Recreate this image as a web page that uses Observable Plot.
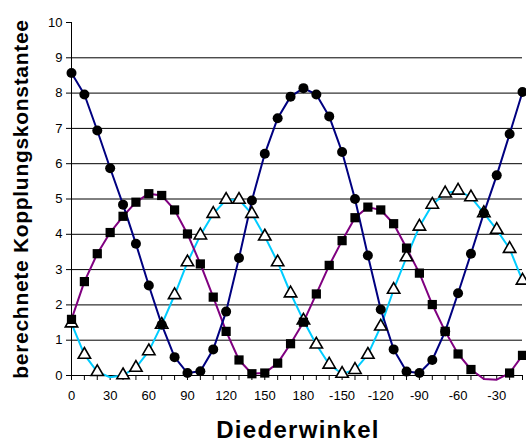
<!DOCTYPE html>
<html><head><meta charset="utf-8">
<script src="https://cdn.jsdelivr.net/npm/d3@7"></script>
<script src="https://cdn.jsdelivr.net/npm/@observablehq/plot@0.6"></script>
<style>body{margin:0;background:#fff} svg{display:block}</style>
</head><body><div id="chart"></div>
<script>
const angles = [0,10,20,30,40,50,60,70,80,90,100,110,120,130,140,150,160,170,180,190,200,210,220,230,240,250,260,270,280,290,300,310,320,330,340,350];
const circleValues = [8.57,7.96,6.94,5.87,4.84,3.73,2.55,1.44,0.52,0.07,0.12,0.74,1.81,3.33,4.96,6.28,7.29,7.90,8.14,7.96,7.34,6.33,5.00,3.40,1.87,0.74,0.11,0.07,0.44,1.25,2.33,3.45,4.60,5.67,6.84,8.03];
const squareValues = [1.59,2.66,3.45,4.05,4.51,4.91,5.15,5.10,4.69,4.01,3.16,2.22,1.25,0.44,0.05,0.07,0.35,0.90,1.51,2.31,3.12,3.82,4.47,4.77,4.69,4.30,3.61,2.90,2.01,1.25,0.61,0.17,-0.10,-0.12,0.07,0.57];
const triangleValues = [1.48,0.59,0.10,-0.05,0.01,0.22,0.69,1.44,2.28,3.21,3.97,4.58,4.98,4.98,4.58,3.94,3.21,2.33,1.56,0.88,0.31,0.05,0.16,0.59,1.39,2.43,3.35,4.22,4.84,5.16,5.24,5.05,4.60,4.13,3.59,2.69];
const xTickValues = [0,30,60,90,120,150,180,210,240,270,300,330];
const xTickLabels = ["0","30","60","90","120","150","180","-150","-120","-90","-60","-30"];
const yTickValues = [0,1,2,3,4,5,6,7,8,9,10];
const gridValues = [1,2,3,4,5,6,7,8,9];
const xTitle = "Diederwinkel";
const yTitle = "berechnete Kopplungskonstantee";

const rows = vals => angles.map((a, i) => ({x: a, y: vals[i]}));
const circ = rows(circleValues), sq = rows(squareValues), tri = rows(triangleValues);
const visible = d => d.y >= 0;
const labelOf = new Map(xTickValues.map((v, i) => [v, xTickLabels[i]]));

const chart = Plot.plot({
  width: 526, height: 446,
  marginLeft: 71, marginRight: 4, marginTop: 22, marginBottom: 71,
  style: {fontFamily: "'Liberation Sans', Arial, sans-serif", fontSize: "13px", background: "#fff", color: "#000", overflow: "visible"},
  x: {domain: [0, 350]},
  y: {domain: [0, 10]},
  marks: [
    Plot.ruleY(gridValues, {stroke: "#000", strokeWidth: 1}),
    Plot.axisY({ticks: yTickValues, tickSize: 5, tickPadding: 4, label: null, tickFormat: d => String(d)}),
    Plot.axisX({ticks: angles, tickSize: 5, tickPadding: 10, label: null, tickFormat: d => labelOf.get(d) ?? ""}),
    Plot.ruleX([0], {stroke: "#000"}),
    Plot.ruleY([0], {stroke: "#000"}),
    Plot.line(tri, {x: "x", y: "y", stroke: "#00CCFF", strokeWidth: 2}),
    Plot.line(sq, {x: "x", y: "y", stroke: "#800080", strokeWidth: 2}),
    Plot.line(circ, {x: "x", y: "y", stroke: "#000080", strokeWidth: 2}),
    Plot.dot(tri.filter(visible), {x: "x", y: "y", symbol: "triangle", r: 4.6, fill: "#fff", stroke: "#000", strokeWidth: 1.6}),
    Plot.dot(sq.filter(visible), {x: "x", y: "y", symbol: "square", r: 5.2, fill: "#000", stroke: "none"}),
    Plot.dot(circ.filter(visible), {x: "x", y: "y", symbol: "circle", r: 5, fill: "#000", stroke: "none"})
  ]
});

const svg = d3.select(chart);
svg.append("text")
  .attr("transform", "translate(28,199) rotate(-90)")
  .attr("text-anchor", "middle")
  .style("font-weight", "bold").style("font-size", "21px").style("letter-spacing", "0.7px")
  .text(yTitle);
svg.append("text")
  .attr("x", 298).attr("y", 438)
  .attr("text-anchor", "middle")
  .style("font-weight", "bold").style("font-size", "24px").style("letter-spacing", "1.3px")
  .text(xTitle);
document.getElementById("chart").appendChild(chart);
</script>
</body></html>
